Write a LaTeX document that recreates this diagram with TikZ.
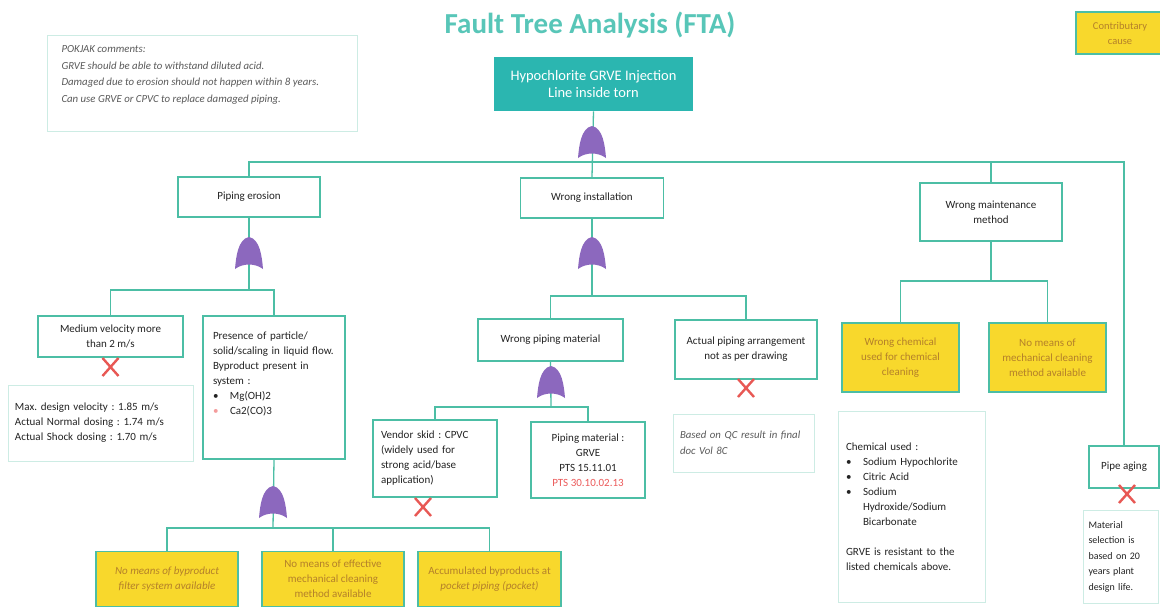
\documentclass[tikz,border=0pt]{standalone}
\usepackage{fontspec}
\setmainfont{Carlito}
\frenchspacing
\definecolor{tealline}{RGB}{76,190,165}
\definecolor{topfill}{RGB}{43,182,176}
\definecolor{titlec}{RGB}{88,198,184}
\definecolor{gatec}{RGB}{140,104,190}
\definecolor{ylw}{RGB}{248,216,44}
\definecolor{ytext}{RGB}{180,128,42}
\definecolor{notec}{RGB}{205,236,228}
\definecolor{notetext}{RGB}{90,90,90}
\definecolor{xred}{RGB}{232,88,84}
\definecolor{ink}{RGB}{35,35,35}
\definecolor{ptsred}{RGB}{236,90,90}
\newcommand\ftbody{\fontsize{11}{15}\selectfont}
\newcommand\ftyel{\fontsize{11}{15}\selectfont}
\newcommand\ftnote{\fontsize{10.8}{16.5}\selectfont\itshape}
\newcommand\itemdot{\makebox[17pt][l]{\textbullet}}
\newcommand\itemgap{\makebox[17pt]{}}
\tikzset{
  box/.style={draw=tealline, line width=1.9pt, fill=white, text=ink,
    font=\ftbody, align=center, inner sep=0pt},
  ybox/.style={box, fill=ylw, text=ytext, font=\ftyel},
  note/.style={draw=notec, line width=1pt, fill=white, text=ink,
    font=\ftbody, align=left, inner ysep=0pt},
  greynote/.style={note, text=notetext, font=\ftnote},
  conn/.style={draw=tealline, line width=1.3pt},
  pics/orgate/.style={code={
    \fill[gatec] (-14,32) .. controls (-13,20) and (-11,2) .. (0,0)
      .. controls (11,2) and (13,20) .. (14,32)
      .. controls (6,26) and (-6,26) .. (-14,32) -- cycle;}},
  pics/cross/.style={code={
    \draw[draw=xred, line width=2.4pt] (-8,-9) -- (8,9) (-8,9) -- (8,-9);}}
}
\begin{document}
\begin{tikzpicture}[x=1pt,y=-1pt]
\useasboundingbox (0,0) rectangle (1160,611);
\fill[white] (0,0) rectangle (1160,611);

% heading and legend
\node[font=\fontsize{29}{33}\selectfont\bfseries, text=titlec] (title) at (590,25) {Fault Tree Analysis (FTA)};
\node[ybox, font=\fontsize{10.5}{15}\selectfont, minimum width=88, minimum height=42] (legend) at (1120,33) {Contributary\\cause};

% review comments
\node[note, minimum width=310, minimum height=96] (cm) at (202,83) {};
\node[greynote, draw=none, fill=none, anchor=west, inner sep=0pt] (cmt) at (61,75)
  {POKJAK comments:\\GRVE should be able to withstand diluted acid.\\Damaged due to erosion should not happen within 8 years.\\Can use GRVE or CPVC to replace damaged piping.};

% top event
\node[box, fill=topfill, draw=topfill, text=white, font=\fontsize{14.5}{16.5}\selectfont,
  minimum width=197, minimum height=53] (top) at (593.5,84) {Hypochlorite GRVE Injection\\Line inside torn};

% second level
\node[box, minimum width=142, minimum height=40] (pe) at (249,197) {Piping erosion};
\node[box, minimum width=143, minimum height=40] (wi) at (592,198) {Wrong installation};
\node[box, minimum width=142, minimum height=58] (wm) at (991,212) {Wrong maintenance\\method};
\node[box, minimum width=70, minimum height=42] (pa) at (1124,467) {Pipe aging};

% piping erosion branch
\node[box, minimum width=145, minimum height=41] (mv) at (110.5,336.5) {Medium velocity more\\than 2 m/s};
\node[box, minimum width=142, minimum height=143] (pp) at (274,387.5) {};
\node[font=\ftbody, text=ink, align=left, text width=128, inner sep=0pt] (ppt) at (277,374)
  {Presence of particle/\\solid/scaling in liquid flow.\\Byproduct present in\\system :\\
   \itemdot Mg(OH)2\\{\color{ptsred!60}\makebox[17pt][l]{\textbullet}}Ca2(CO)3};
\node[note, text width=171, inner xsep=7, minimum height=76] (mdv) at (100.5,423)
  {Max. design velocity : 1.85 m/s\\Actual Normal dosing : 1.74 m/s\\Actual Shock dosing : 1.70 m/s};

\node[ybox, minimum width=142, minimum height=55] (b1) at (167,579) {\itshape No means of byproduct\\\itshape filter system available};
\node[ybox, minimum width=142, minimum height=55] (b2) at (333,579) {No means of effective\\mechanical cleaning\\method available};
\node[ybox, minimum width=143, minimum height=55] (b3) at (489.5,579) {Accumulated byproducts at\\\itshape pocket piping (pocket)};

% wrong installation branch
\node[box, minimum width=145, minimum height=42] (wpm) at (550.5,340) {Wrong piping material};
\node[box, minimum width=142, minimum height=59] (apa) at (746,349.5) {Actual piping arrangement\\not as per drawing};
\node[box, align=left, text width=108, inner xsep=8, minimum height=77] (vs) at (435,458.5)
  {Vendor skid : CPVC\\(widely used for\\strong acid/base\\application)};
\node[box, minimum width=114, minimum height=76] (pm) at (588,460)
  {Piping material :\\GRVE\\PTS 15.11.01\\{\color{ptsred}PTS 30.10.02.13}};
\node[greynote, text width=127, inner xsep=7, minimum height=58] (qc) at (743.5,443)
  {Based on QC result in final\\doc Vol 8C};

% wrong maintenance branch
\node[ybox, minimum width=117, minimum height=69] (wc) at (900.5,357.5) {Wrong chemical\\used for chemical\\cleaning};
\node[ybox, minimum width=117, minimum height=69] (nmc) at (1047.5,357.5) {No means of\\mechanical cleaning\\method available};
\node[note, text width=131, inner xsep=8, minimum height=191] (chem) at (911.5,506.5)
  {Chemical used :\\\itemdot Sodium Hypochlorite\\\itemdot Citric Acid\\\itemdot Sodium\\
   \itemgap Hydroxide/Sodium\\\itemgap Bicarbonate\\[15pt]GRVE is resistant to the\\listed chemicals above.};

% pipe aging note
\node[note, font=\fontsize{10}{15.5}\selectfont, text width=64, inner xsep=5.5, minimum height=93] (ms) at (1120.5,556.5)
  {Material\\selection is\\based on 20\\years plant\\design life.};

% junction points of the tree
\coordinate (j1) at (592,162);
\coordinate (j2) at (249,290);
\coordinate (j3) at (592,296);
\coordinate (j4) at (551,407);
\coordinate (j5) at (991,281);
\coordinate (j6) at (273,528);

% connectors
\draw[conn] (top.south) -- (wi.north);
\draw[conn] (pe.north) -- (pe.north |- j1) -- (j1 -| pa.north) -- (pa.north);
\draw[conn] (wm.north) -- (wm.north |- j1);
\draw[conn] (pe.south) -- (j2);
\draw[conn] (mv.north) |- (j2) -| (pp.north);
\draw[conn] (wi.south) -- (j3);
\draw[conn] (wpm.north) |- (j3) -| (apa.north);
\draw[conn] (wpm.south) -- (j4);
\draw[conn] (vs.north) |- (j4) -| (pm.north);
\draw[conn] (wm.south) -- (j5);
\draw[conn] (wc.north) |- (j5) -| (nmc.north);
\draw[conn] (pp.south) -- (j6);
\draw[conn] (b1.north) |- (j6) -| (b3.north);
\draw[conn] (b2.north) -- (b2.north |- j6);

% OR gates
\pic at (592,126) {orgate};
\pic at (249,237) {orgate};
\pic at (592,237) {orgate};
\pic at (551,366) {orgate};
\pic at (273,486) {orgate};

% ruled-out causes
\pic at (110.5,367) {cross};
\pic at (423,507) {cross};
\pic at (746,388) {cross};
\pic at (1127,494) {cross};
\end{tikzpicture}
\end{document}
